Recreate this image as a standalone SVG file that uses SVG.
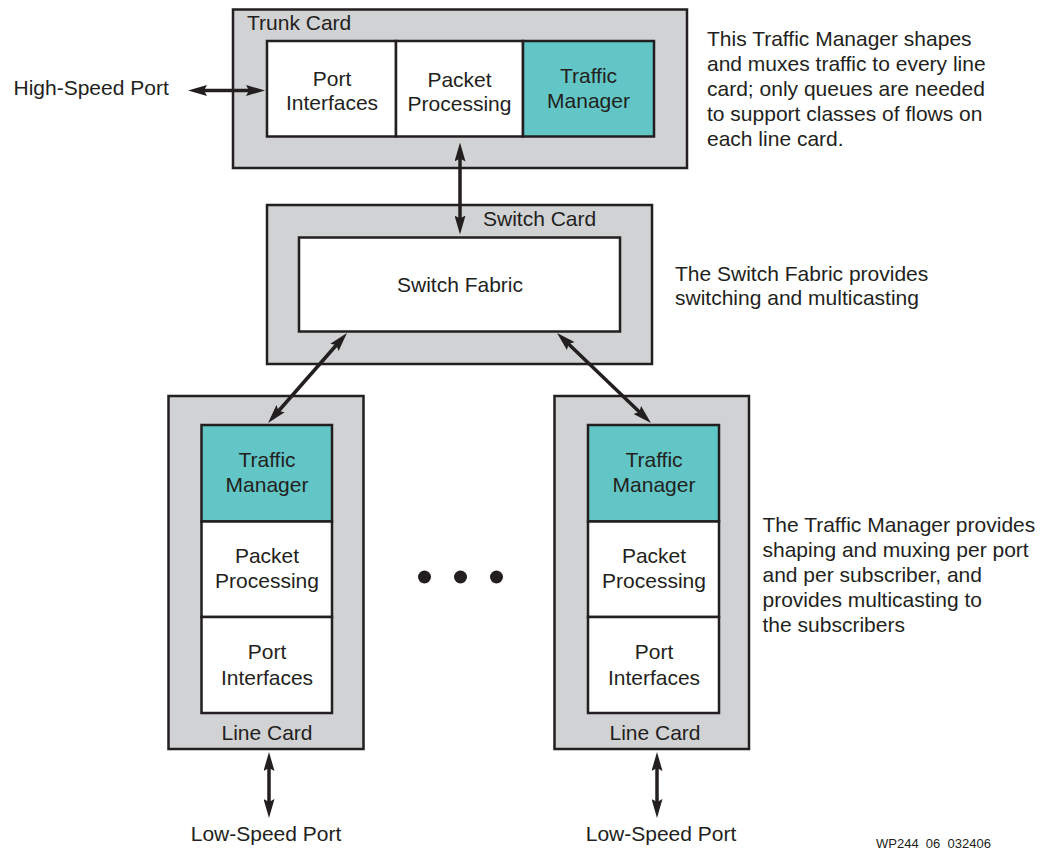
<svg xmlns="http://www.w3.org/2000/svg" width="1055" height="850" viewBox="0 0 1055 850">
  <style>
    .card { fill: #d1d2d4; stroke: #231f20; stroke-width: 2.5; }
    .blk { fill: #ffffff; stroke: #231f20; stroke-width: 2.5; }
    .tm { fill: #62c6c6; stroke: #231f20; stroke-width: 2.5; }
    text { font-family: "Liberation Sans", Arial, Helvetica, sans-serif; font-size: 21px; fill: #231f20; }
    .c { text-anchor: middle; }
    .small { font-size: 13px; }
    .conn { stroke: #231f20; stroke-width: 3.5; fill: none; marker-start: url(#head); marker-end: url(#head); }
  </style>
  <defs>
    <marker id="head" viewBox="0 0 19 11" refX="11" refY="5.5" markerWidth="19" markerHeight="11" markerUnits="userSpaceOnUse" orient="auto-start-reverse">
      <path d="M0,0 L19,5.5 L0,11 L3,5.5 z" fill="#231f20"/>
    </marker>
  </defs>
  <rect width="1055" height="850" fill="#ffffff"/>

  <!-- Trunk card -->
  <g id="trunk-card">
    <rect class="card" x="233" y="9.5" width="454" height="158.5"/>
    <text x="247" y="30">Trunk Card</text>
    <rect class="blk" x="267" y="41" width="129" height="95.5"/>
    <rect class="blk" x="396" y="41" width="127" height="95.5"/>
    <rect class="tm" x="523" y="41" width="131" height="95.5"/>
    <text class="c" x="332" y="86">Port</text>
    <text class="c" x="332" y="110">Interfaces</text>
    <text class="c" x="459.5" y="87">Packet</text>
    <text class="c" x="459.5" y="111">Processing</text>
    <text class="c" x="588.5" y="83">Traffic</text>
    <text class="c" x="588.5" y="108">Manager</text>
  </g>

  <!-- Switch card -->
  <g id="switch-card">
    <rect class="card" x="267" y="205" width="385" height="159"/>
    <text x="483" y="226">Switch Card</text>
    <rect class="blk" x="299" y="237.5" width="321" height="94"/>
    <text class="c" x="460" y="292">Switch Fabric</text>
  </g>

  <!-- Line card, left -->
  <g id="line-card-left">
    <rect class="card" x="168.5" y="396" width="195" height="353"/>
    <rect class="tm" x="201.5" y="425" width="130.5" height="96.5"/>
    <rect class="blk" x="201.5" y="521.5" width="130.5" height="95.5"/>
    <rect class="blk" x="201.5" y="617" width="130.5" height="96"/>
    <text class="c" x="267" y="467">Traffic</text>
    <text class="c" x="267" y="492">Manager</text>
    <text class="c" x="267" y="563">Packet</text>
    <text class="c" x="267" y="588">Processing</text>
    <text class="c" x="267" y="659">Port</text>
    <text class="c" x="267" y="685">Interfaces</text>
    <text class="c" x="267" y="740">Line Card</text>
  </g>

  <!-- Line card, right -->
  <g id="line-card-right">
    <rect class="card" x="554.5" y="396" width="194.5" height="353"/>
    <rect class="tm" x="588" y="425" width="131" height="96.5"/>
    <rect class="blk" x="588" y="521.5" width="131" height="95.5"/>
    <rect class="blk" x="588" y="617" width="131" height="96"/>
    <text class="c" x="654" y="467">Traffic</text>
    <text class="c" x="654" y="492">Manager</text>
    <text class="c" x="654" y="563">Packet</text>
    <text class="c" x="654" y="588">Processing</text>
    <text class="c" x="654" y="659">Port</text>
    <text class="c" x="654" y="685">Interfaces</text>
    <text class="c" x="655" y="740">Line Card</text>
  </g>

  <!-- Ellipsis between line cards -->
  <g id="ellipsis" fill="#231f20">
    <circle cx="424.5" cy="577" r="6.5"/>
    <circle cx="460.5" cy="577" r="6.5"/>
    <circle cx="496.5" cy="577" r="6.5"/>
  </g>

  <!-- Port labels -->
  <g id="ports">
    <text x="13.5" y="95">High-Speed Port</text>
    <text class="c" x="266" y="841">Low-Speed Port</text>
    <text class="c" x="661" y="841">Low-Speed Port</text>
  </g>

  <!-- Connectors -->
  <g id="connectors">
    <line class="conn" x1="196" y1="90.5" x2="257" y2="90.5"/>
    <line class="conn" x1="460" y1="150.5" x2="460" y2="226.5"/>
    <line class="conn" x1="341.7" y1="339" x2="273.3" y2="417"/>
    <line class="conn" x1="562.8" y1="338.5" x2="645.2" y2="417.5"/>
    <line class="conn" x1="269" y1="760" x2="269" y2="810"/>
    <line class="conn" x1="657" y1="760" x2="657" y2="810"/>
  </g>

  <!-- Annotations -->
  <g id="notes">
    <text x="707" y="46">This Traffic Manager shapes</text>
    <text x="707" y="71">and muxes traffic to every line</text>
    <text x="707" y="96">card; only queues are needed</text>
    <text x="707" y="121">to support classes of flows on</text>
    <text x="707" y="146">each line card.</text>

    <text x="675" y="281">The Switch Fabric provides</text>
    <text x="675" y="305">switching and multicasting</text>

    <text x="762.5" y="532">The Traffic Manager provides</text>
    <text x="762.5" y="557">shaping and muxing per port</text>
    <text x="762.5" y="582">and per subscriber, and</text>
    <text x="762.5" y="607">provides multicasting to</text>
    <text x="762.5" y="632">the subscribers</text>

    <text class="small" x="876" y="848" xml:space="preserve">WP244  06  032406</text>
  </g>
</svg>
